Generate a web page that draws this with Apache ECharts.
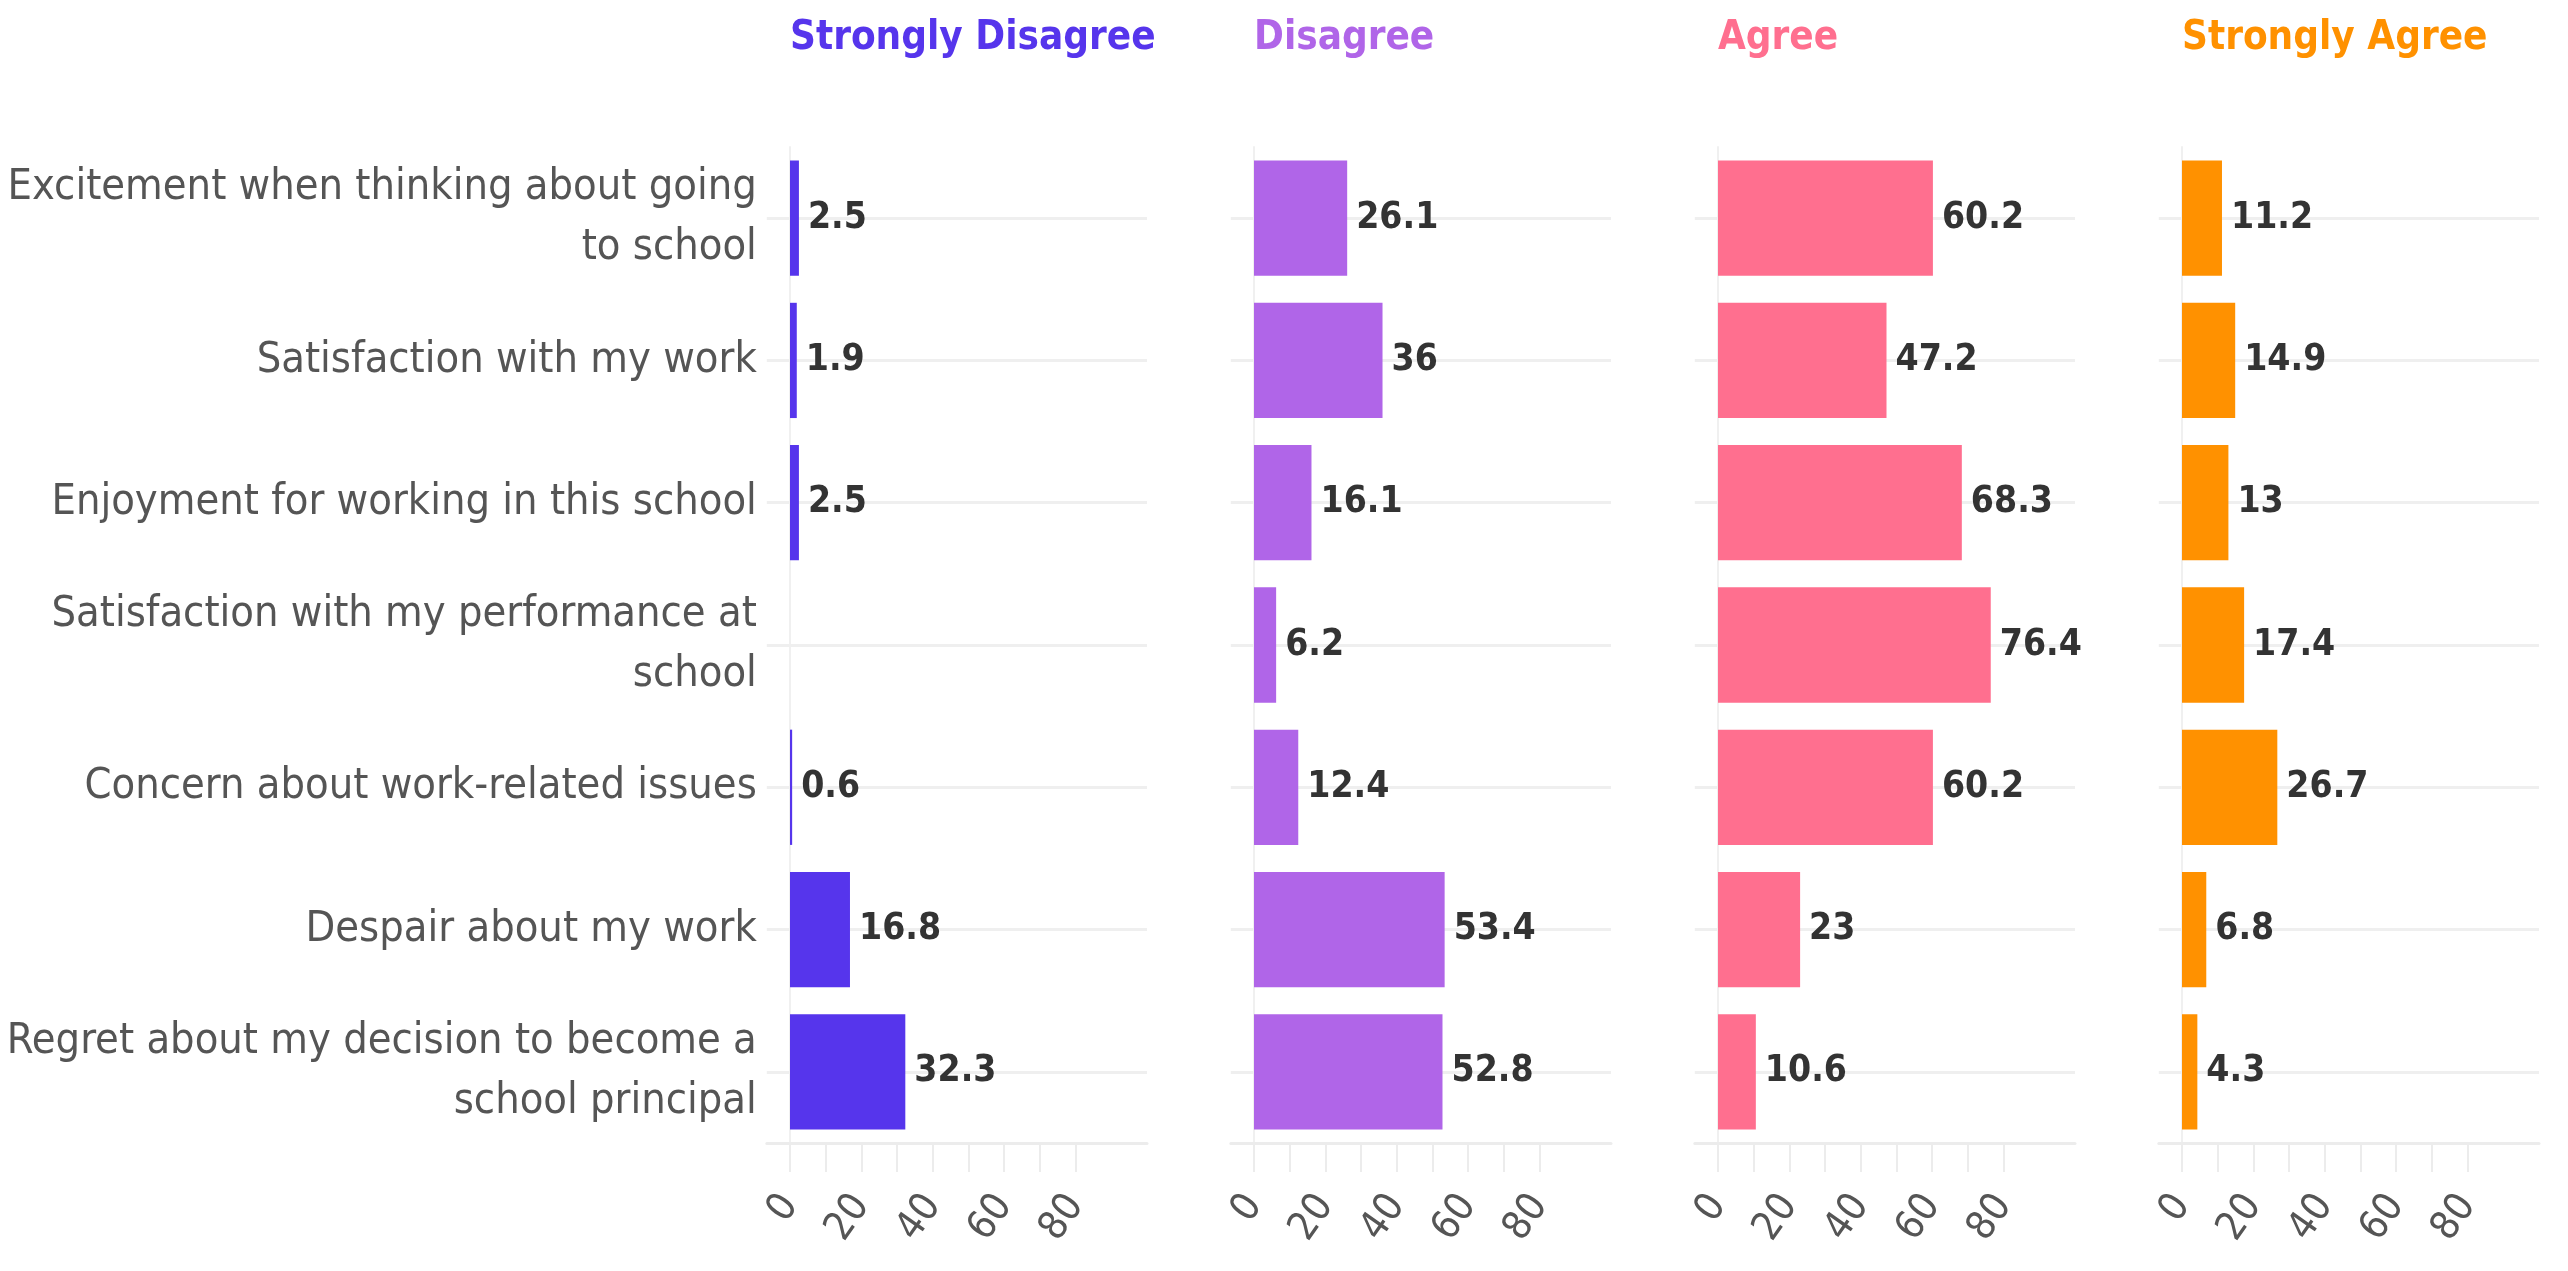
<!DOCTYPE html>
<html>
<head>
<meta charset="utf-8">
<script src="https://cdn.jsdelivr.net/npm/echarts@6/dist/echarts.min.js"></script>
<style>
html,body{margin:0;padding:0;background:#fff;}
#chart{width:2568px;height:1271px;}
</style>
</head>
<body>
<div id="chart"></div>
<script>
const categories = [
  "Excitement when thinking about going\nto school",
  "Satisfaction with my work",
  "Enjoyment for working in this school",
  "Satisfaction with my performance at\nschool",
  "Concern about work-related issues",
  "Despair about my work",
  "Regret about my decision to become a\nschool principal"
];
const panelNames = ["Strongly Disagree", "Disagree", "Agree", "Strongly Agree"];
const stronglyDisagree = [2.5, 1.9, 2.5, null, 0.6, 16.8, 32.3];
const disagree = [26.1, 36, 16.1, 6.2, 12.4, 53.4, 52.8];
const agree = [60.2, 47.2, 68.3, 76.4, 60.2, 23, 10.6];
const stronglyAgree = [11.2, 14.9, 13, 17.4, 26.7, 6.8, 4.3];
const tickValues = [0, 10, 20, 30, 40, 50, 60, 70, 80];
const tickLabels = [0, 20, 40, 60, 80];

const seriesValues = [stronglyDisagree, disagree, agree, stronglyAgree];
const colors = ["#5635ec", "#b065e8", "#ff6f8f", "#ff9100"];
const FONT = "'DejaVu Sans Condensed', 'Liberation Sans Narrow', 'Noto Sans', sans-serif";

const x0s = [790, 1254, 1718, 2182];
const pxPerUnit = 3.57;
const axisMin = -6.5, axisMax = 100;

const grids = [], xAxes = [], yAxes = [], series = [], titles = [];
for (let i = 0; i < 4; i++) {
  grids.push({
    left: x0s[i] + axisMin * pxPerUnit,
    width: (axisMax - axisMin) * pxPerUnit,
    top: 147,
    height: 996,
    containLabel: false,
    outerBoundsMode: 'none'
  });
  titles.push({
    text: panelNames[i],
    left: x0s[i],
    top: 19,
    padding: 0,
    textStyle: { fontFamily: FONT, fontSize: 40, fontWeight: 'bold', color: colors[i] }
  });
  xAxes.push({
    type: 'value', gridIndex: i, min: axisMin, max: axisMax,
    splitLine: { show: false },
    axisLine: { show: true, lineStyle: { color: '#ececec', width: 3 } },
    axisTick: { show: true, customValues: tickValues, length: 29, lineStyle: { color: '#ececec', width: 2 } },
    axisLabel: {
      customValues: tickLabels, rotate: 55, margin: 56,
      fontFamily: FONT, fontSize: 40, color: '#555'
    }
  });
  yAxes.push({
    type: 'category', gridIndex: i, data: categories, inverse: true,
    axisLine: { show: true, onZero: true, lineStyle: { color: '#f0f0f0', width: 2 } },
    axisTick: { show: false },
    splitLine: { show: false },
    axisLabel: {
      show: i === 0, margin: 10, fontFamily: FONT, fontSize: 43,
      lineHeight: 60, color: '#555', align: 'right'
    }
  });
  series.push({
    type: 'bar', xAxisIndex: i, yAxisIndex: i, z: 2,
    data: seriesValues[i].map(v => v === null ? '-' : v),
    barCategoryGap: '19%',
    itemStyle: { color: colors[i] },
    label: {
      show: true, position: 'right', distance: 9,
      fontFamily: FONT, fontSize: 37, fontWeight: 'bold', color: '#333',
      formatter: '{c}'
    },
    markLine: {
      silent: true, symbol: 'none', z: 1,
      label: { show: false },
      lineStyle: { color: '#efefef', width: 3, type: 'solid' },
      emphasis: { disabled: true },
      data: categories.map((c, k) => ({ yAxis: k }))
    }
  });
}

const chart = echarts.init(document.getElementById('chart'));
chart.setOption({
  backgroundColor: '#fff',
  animation: false,
  title: titles,
  grid: grids,
  xAxis: xAxes,
  yAxis: yAxes,
  series: series
});
</script>
</body>
</html>
